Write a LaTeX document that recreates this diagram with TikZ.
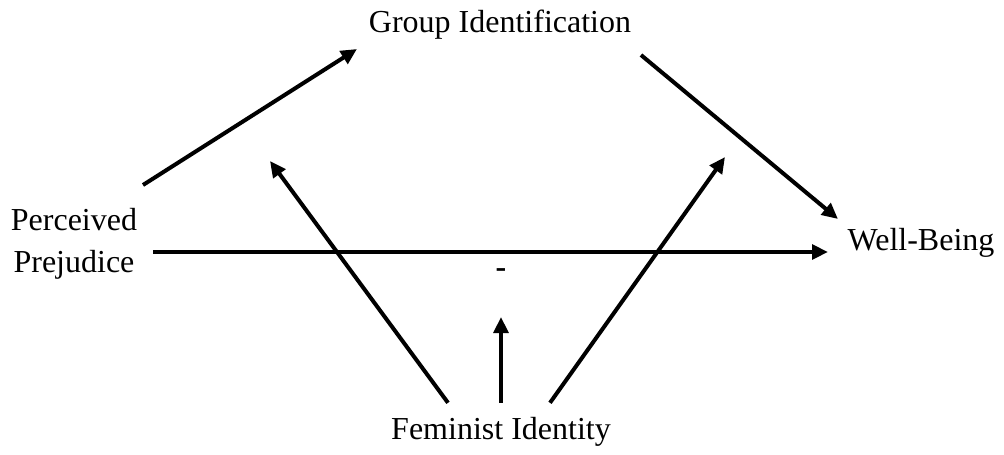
\documentclass[tikz,border=0pt]{standalone}
\usepackage{fontspec}
\setmainfont{Liberation Serif}
\usetikzlibrary{arrows.meta, positioning}

\begin{document}
\begin{tikzpicture}[
    x=0.75pt, y=-0.75pt,
    var/.style={font=\fontsize{24}{31}\selectfont, inner sep=0pt},
    arrow/.style={-{Triangle[length=12pt, width=11pt]}, line width=3pt}
]
\useasboundingbox (0,0) rectangle (1004,454);

\node[var, anchor=base] (group) at (500,32) {Group Identification};
\node[var, anchor=base, align=center] (prejudice) at (74,272) {Perceived\\Prejudice};
\node[var, anchor=base] (wellbeing) at (921,250) {Well-Being};
\node[var, anchor=base, outer ysep=10.5pt] (feminist) at (501,439) {Feminist Identity};
\node[var, font=\fontsize{24}{31}\selectfont\bfseries] (minus) at (501,273) {-};

% free ends of the paths
\coordinate (pp-up) at (143,185);
\coordinate (gi-in) at (357,49);
\coordinate (gi-out) at (641,55);
\coordinate (wb-up) at (838,219);
\coordinate (pp-out) at (153,252);
\coordinate (wb-in) at (828,252);
\coordinate (mod-a) at (270,161);
\coordinate (mod-b) at (725,157);
\coordinate (mod-c) at (501,317);

\draw[arrow] (pp-up) -- (gi-in);
\draw[arrow] (gi-out) -- (wb-up);
\draw[arrow] (pp-out) -- (wb-in);

% moderation by feminist identity
\draw[arrow] ([xshift=-39.75pt]feminist.north) -- (mod-a);
\draw[arrow] (feminist.north) -- (mod-c);
\draw[arrow] ([xshift=36.75pt]feminist.north) -- (mod-b);

\end{tikzpicture}
\end{document}
